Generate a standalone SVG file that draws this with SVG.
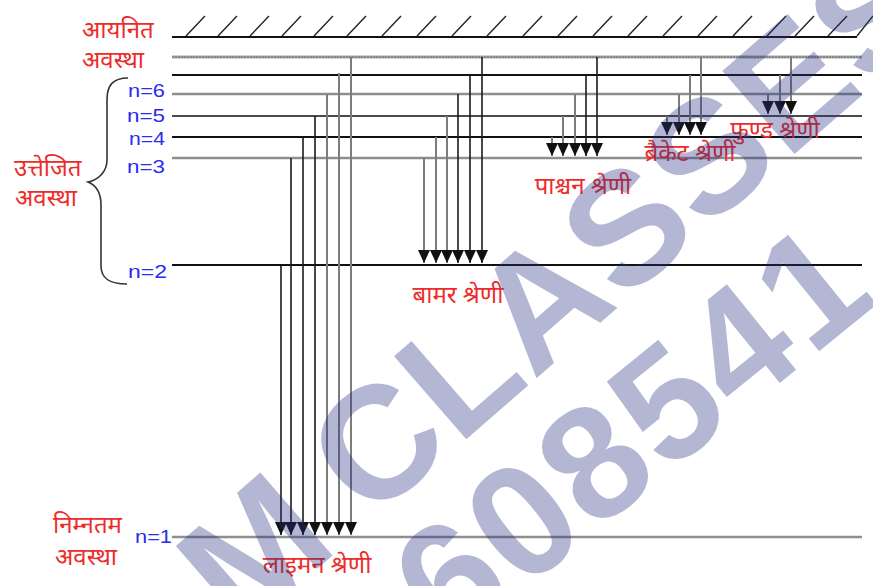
<svg xmlns="http://www.w3.org/2000/svg" width="873" height="586" viewBox="0 0 873 586">
<defs>
<style>
.lvK{stroke:#111;stroke-width:2.2;fill:none}
.lvG{stroke:#8e8e8e;stroke-width:2.6;fill:none}
.lvD{stroke:#4a4a4a;stroke-width:2;fill:none}
.hatch{stroke:#222;stroke-width:1.4}
.trK{stroke:#1a1a1a;stroke-width:1.6;marker-end:url(#ah)}
.trG{stroke:#7c7c7c;stroke-width:2;marker-end:url(#ah)}
.red{fill:#ee2b2b;font-family:"Noto Sans Devanagari","Noto Sans","Lohit Devanagari","FreeSans",sans-serif;font-size:24px}
.ser{fill:#ee2b2b;font-family:"Noto Sans Devanagari","Noto Sans","Lohit Devanagari","FreeSans",sans-serif;font-size:24px;text-anchor:middle}
.blue{fill:#2b2bf0;font-family:"Liberation Sans",Arial,sans-serif;font-size:18px}
.wm{fill:#283282;fill-opacity:0.35;font-family:"Liberation Sans",Arial,sans-serif;font-weight:bold}
</style>
<marker id="ah" markerUnits="userSpaceOnUse" markerWidth="14" markerHeight="14" refX="13" refY="0" viewBox="0 -7 14 14" orient="auto" overflow="visible">
<path d="M0,-6 L13,0 L0,6 Z" fill="#111"/>
</marker>
</defs>
<rect width="873" height="586" fill="#fff"/>

<g id="levels">
  <g id="ionised">
    <line class="lvK" x1="172" y1="37" x2="857" y2="37"/>
    <g class="hatch">
      <line x1="186" y1="36" x2="205" y2="16"/><line x1="218" y1="36" x2="237" y2="16"/>
      <line x1="250" y1="36" x2="269" y2="16"/><line x1="282" y1="36" x2="301" y2="16"/>
      <line x1="314" y1="36" x2="333" y2="16"/><line x1="347" y1="36" x2="366" y2="16"/>
      <line x1="382" y1="36" x2="401" y2="16"/><line x1="417" y1="36" x2="436" y2="16"/>
      <line x1="452" y1="36" x2="471" y2="16"/><line x1="487" y1="36" x2="506" y2="16"/>
      <line x1="523" y1="36" x2="542" y2="16"/><line x1="558" y1="36" x2="577" y2="16"/>
      <line x1="593" y1="36" x2="612" y2="16"/><line x1="628" y1="36" x2="647" y2="16"/>
      <line x1="663" y1="36" x2="682" y2="16"/><line x1="698" y1="36" x2="717" y2="16"/>
      <line x1="733" y1="36" x2="752" y2="16"/><line x1="767" y1="36" x2="786" y2="16"/>
      <line x1="795" y1="36" x2="814" y2="16"/><line x1="828" y1="36" x2="847" y2="16"/>
      <line x1="857" y1="36" x2="873" y2="16"/>
    </g>
  </g>
  <g id="n-inf"><line x1="172" y1="57" x2="862" y2="57" stroke="#a5a5a5" stroke-width="3"/><line x1="172" y1="57" x2="862" y2="57" stroke="#6a6a6a" stroke-width="1" stroke-dasharray="2 1"/></g>
  <g id="n7"><line class="lvK" x1="172" y1="75" x2="862" y2="75"/></g>
  <g id="n6"><line class="lvG" x1="172" y1="94" x2="862" y2="94"/></g>
  <g id="n5"><line class="lvD" x1="172" y1="116" x2="862" y2="116"/></g>
  <g id="n4"><line class="lvK" x1="172" y1="137" x2="862" y2="137"/></g>
  <g id="n3"><line class="lvG" x1="172" y1="158" x2="862" y2="158"/></g>
  <g id="n2"><line class="lvK" x1="172" y1="265" x2="862" y2="265"/></g>
  <g id="n1"><line class="lvG" x1="172" y1="537" x2="862" y2="537" stroke-width="3"/></g>
</g>

<g id="transitions">
  <g id="lyman">
    <line class="trK" x1="281" y1="265" x2="281" y2="535"/>
    <line class="trK" x1="291" y1="158" x2="291" y2="535"/>
    <line class="trK" x1="303" y1="137" x2="303" y2="535"/>
    <line class="trK" x1="315" y1="116" x2="315" y2="535"/>
    <line class="trG" x1="327" y1="94" x2="327" y2="535"/>
    <line class="trG" x1="339" y1="73" x2="339" y2="535"/>
    <line class="trG" x1="351" y1="57" x2="351" y2="535"/>
  </g>
  <g id="balmer">
    <line class="trG" x1="424" y1="158" x2="424" y2="263"/>
    <line class="trG" x1="436" y1="137" x2="436" y2="263"/>
    <line class="trG" x1="447" y1="116" x2="447" y2="263"/>
    <line class="trK" x1="458" y1="94" x2="458" y2="263"/>
    <line class="trK" x1="470" y1="75" x2="470" y2="263"/>
    <line class="trK" x1="482" y1="57" x2="482" y2="263"/>
  </g>
  <g id="paschen">
    <line class="trG" x1="552" y1="137" x2="552" y2="156"/>
    <line class="trG" x1="563" y1="116" x2="563" y2="156"/>
    <line class="trG" x1="575" y1="94" x2="575" y2="156"/>
    <line class="trK" x1="586" y1="75" x2="586" y2="156"/>
    <line class="trK" x1="597" y1="57" x2="597" y2="156"/>
  </g>
  <g id="brackett">
    <line class="trG" x1="667" y1="116" x2="667" y2="135"/>
    <line class="trG" x1="679" y1="94" x2="679" y2="135"/>
    <line class="trG" x1="690" y1="75" x2="690" y2="135"/>
    <line class="trG" x1="701" y1="57" x2="701" y2="135"/>
  </g>
  <g id="pfund">
    <line class="trG" x1="768" y1="94" x2="768" y2="114"/>
    <line class="trG" x1="780" y1="75" x2="780" y2="114"/>
    <line class="trG" x1="791" y1="57" x2="791" y2="114"/>
  </g>
</g>

<g id="brace">
  <path d="M128,78 C113,78 107,85 107,100 L107,160 C107,172 98,180 88,182 C98,186 101,195 101,205 L101,266 C101,279 110,284 127,284" fill="none" stroke="#333" stroke-width="1.6"/>
</g>

<g id="state-labels">
  <text class="red" x="82" y="38">आयनित</text>
  <text class="red" x="82" y="68">अवस्था</text>
  <text class="red" x="14" y="176">उत्तेजित</text>
  <text class="red" x="15" y="206">अवस्था</text>
  <text class="red" x="53" y="533">निम्नतम</text>
  <text class="red" x="55" y="565">अवस्था</text>
</g>
<g id="n-labels">
  <text class="blue" x="128" y="97" textLength="37" lengthAdjust="spacingAndGlyphs">n=6</text>
  <text class="blue" x="127" y="122" textLength="38" lengthAdjust="spacingAndGlyphs">n=5</text>
  <text class="blue" x="129" y="145" textLength="36" lengthAdjust="spacingAndGlyphs">n=4</text>
  <text class="blue" x="127" y="173" textLength="38" lengthAdjust="spacingAndGlyphs">n=3</text>
  <text class="blue" x="128" y="278" textLength="39" lengthAdjust="spacingAndGlyphs">n=2</text>
  <text class="blue" x="135" y="543" textLength="37" lengthAdjust="spacingAndGlyphs">n=1</text>
</g>
<g id="series-labels">
  <text class="ser" x="317" y="573">लाइमन श्रेणी</text>
  <text class="ser" x="458" y="303">बामर श्रेणी</text>
  <text class="ser" x="583" y="194">पाश्चन श्रेणी</text>
  <text class="ser" x="690" y="161">ब्रैकेट श्रेणी</text>
  <text class="ser" x="775" y="138">फुण्ड श्रेणी</text>
</g>

<g id="watermark">
  <text class="wm" font-size="160" letter-spacing="2" word-spacing="-10" transform="translate(240,636) rotate(-41)">M CLASSES</text>
  <text class="wm" font-size="160" letter-spacing="4" transform="translate(450,650) rotate(-39)">608541</text>
</g>
</svg>
